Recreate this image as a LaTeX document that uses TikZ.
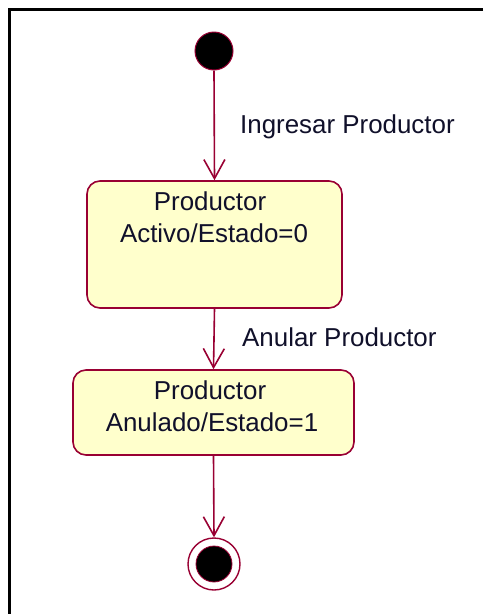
\documentclass[tikz,border=0pt]{standalone}
\usepackage{fontspec}
\setmainfont{Liberation Sans}
\usetikzlibrary{arrows.meta}
\definecolor{umlred}{HTML}{990033}
\definecolor{umlfill}{HTML}{FFFFCC}
\definecolor{umltext}{HTML}{10102A}
\tikzset{
  statebox/.style={draw=umlred, fill=umlfill, line width=1.6pt, rounded corners=13pt, inner sep=0pt},
  txt/.style={anchor=base, inner sep=0pt, text=umltext, font=\fontsize{25.9}{30}\selectfont},
  trans/.style={draw=umlred, line width=1.6pt, -{Straight Barb[length=19pt,width=21pt,line width=1.6pt]}},
}
\begin{document}
\begin{tikzpicture}[x=1pt,y=-1pt]
\useasboundingbox (0,0) rectangle (483,614);
\fill[white] (0,0) rectangle (483,614);
% frame
\draw[line width=3pt] (483,9.5) -- (9.5,9.5) -- (9.5,614);
% initial state
\node[circle, fill=black, draw=umlred, line width=1pt, minimum size=38pt, inner sep=0pt] (init) at (214,51) {};
% states
\node[statebox, minimum width=255pt, minimum height=127pt] (s1) at (214.5,244.5) {};
\node[txt] (s1a) at (210,210) {Productor};
\node[txt] (s1b) at (214,242) {Activo/Estado=0};
\node[statebox, minimum width=281pt, minimum height=85pt] (s2) at (213.5,412.5) {};
\node[txt] (s2a) at (210,399) {Productor};
\node[txt] (s2b) at (212,431) {Anulado/Estado=1};
% final state
\node[circle, draw=umlred, fill=white, line width=1.4pt, minimum size=52pt, inner sep=0pt] (fin) at (214,564) {};
\node[circle, fill=black, draw=umlred, line width=0.8pt, minimum size=36pt, inner sep=0pt] (fincore) at (fin) {};
% transitions
\draw[trans] (init.south) -- (s1.north);
\draw[trans] (s1.south) -- (s2.north);
\draw[trans] (s2.south) -- (fin.north);
% labels
\node[txt, anchor=base west] (l1) at (240,133) {Ingresar Productor};
\node[txt, anchor=base west] (l2) at (242,346) {Anular Productor};
\end{tikzpicture}
\end{document}
